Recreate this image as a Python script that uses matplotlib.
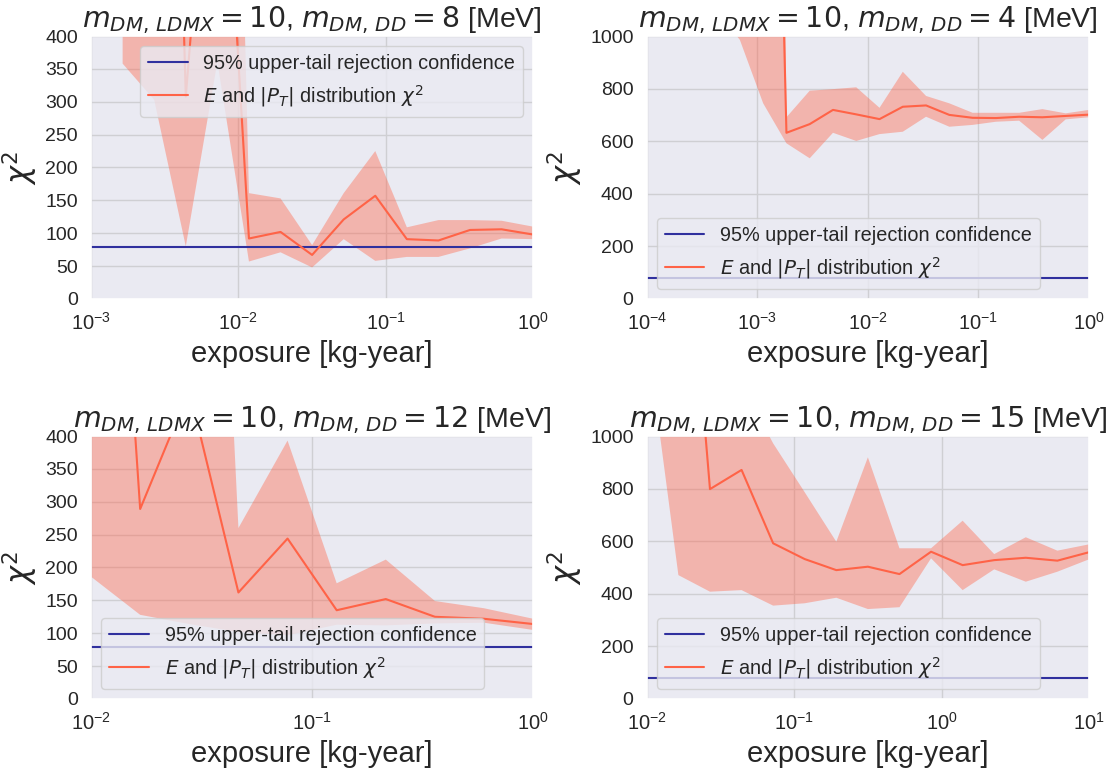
import numpy as np
import matplotlib
matplotlib.use("Agg")
import matplotlib.pyplot as plt
import seaborn as sns

sns.set_theme(style="darkgrid")
plt.rcParams["font.family"] = ["Liberation Sans", "DejaVu Sans"]
plt.rcParams["grid.color"] = "#cfcfd3"
plt.rcParams["grid.linewidth"] = 1.0

# chi2 95% upper-tail threshold
THRESHOLD = 79.08

# m_DD = 8 MeV
x_8 = np.logspace(-3, 0, 15)
chi2_8 = [np.nan, 3000, 2000, 308, 900, 92, 102, 67, 121, 157, 91, 89, 105, 106, 98]
upper_8 = [np.nan, 2500, 2500, 2500, 2090, 161, 153, 82, 161, 225, 109, 120, 120, 119, 110]
lower_8 = [np.nan, 358, 303, 80, 361, 57, 71, 48, 91, 58, 64, 64, 77, 92, 91]

# m_DD = 4 MeV
x_4 = np.logspace(-4, 0, 20)
chi2_4 = [25000, 18000, 14000, 10000, 7000, 4300, 632, 665, 719, 702,
          684, 731, 736, 700, 689, 688, 693, 691, 696, 701]
upper_4 = [40000, 30000, 25000, 20000, 15000, 9000, 691, 792, 798, 805,
           727, 864, 772, 744, 708, 708, 708, 722, 706, 719]
lower_4 = [3000, 2500, 2000, 1100, 985, 744, 592, 535, 632, 601,
           627, 636, 693, 655, 662, 674, 678, 605, 683, 691]

# m_DD = 12 MeV
x_12 = np.logspace(-2, 0, 10)
chi2_12 = [1400, 289, 470, 162, 244, 135, 152, 125, 122, 114]
upper_12 = [2500, 2000, 1800, 260, 393, 176, 212, 149, 138, 122]
lower_12 = [186, 128, 114, 102, 97, 113, 112, 115, 116, 105]

# m_DD = 15 MeV
x_15 = np.logspace(-2, 1, 15)
chi2_15 = [4000, 2240, 798, 871, 592, 532, 490, 503, 475, 560, 509, 528, 537, 526, 558]
upper_15 = [6000, 5000, 4000, 1200, 972, 786, 598, 919, 573, 573, 678, 551, 615, 564, 588]
lower_15 = [1383, 471, 408, 414, 355, 364, 385, 342, 349, 535, 414, 493, 446, 484, 531]

panels = [
    (8, x_8, chi2_8, upper_8, lower_8, (1e-3, 1e0), 400, np.arange(0, 401, 50), "upper right"),
    (4, x_4, chi2_4, upper_4, lower_4, (1e-4, 1e0), 1000, np.arange(0, 1001, 200), "lower left"),
    (12, x_12, chi2_12, upper_12, lower_12, (1e-2, 1e0), 400, np.arange(0, 401, 50), "lower left"),
    (15, x_15, chi2_15, upper_15, lower_15, (1e-2, 1e1), 1000, np.arange(0, 1001, 200), "lower left"),
]

fig, axes = plt.subplots(2, 2, figsize=(11.13, 7.71), dpi=100)
plt.subplots_adjust(left=0.0818, right=0.9784, top=0.9533, bottom=0.0934,
                    wspace=0.257, hspace=0.521)

for ax, (m_dd, x, chi2, up, lo, xlim, ymax, yticks, loc) in zip(axes.flat, panels):
    ax.fill_between(x, lo, up, color="tomato", alpha=0.4, linewidth=0)
    ax.axhline(THRESHOLD, color="#30309e", lw=1.5,
               label="95% upper-tail rejection confidence")
    ax.plot(x, chi2, color="tomato", lw=1.5,
            label=r"$E$ and $|P_T|$ distribution $\chi^2$")
    ax.set_xscale("log")
    ax.set_xlim(*xlim)
    ax.set_ylim(0, ymax)
    ax.set_yticks(yticks)
    ax.tick_params(axis="y", labelsize=14)
    ax.tick_params(axis="x", labelsize=14.5)
    ax.set_xlabel("exposure [kg-year]", fontsize=21)
    ax.set_ylabel(r"$\chi^2$", fontsize=22)
    ax.set_title(r"$m_{DM,\,LDMX} = 10$, $m_{DM,\,DD} = %d$ [MeV]" % m_dd, fontsize=20.5)
    ax.legend(loc=loc, fontsize=14.3)

fig.savefig("out.png", dpi=100)
